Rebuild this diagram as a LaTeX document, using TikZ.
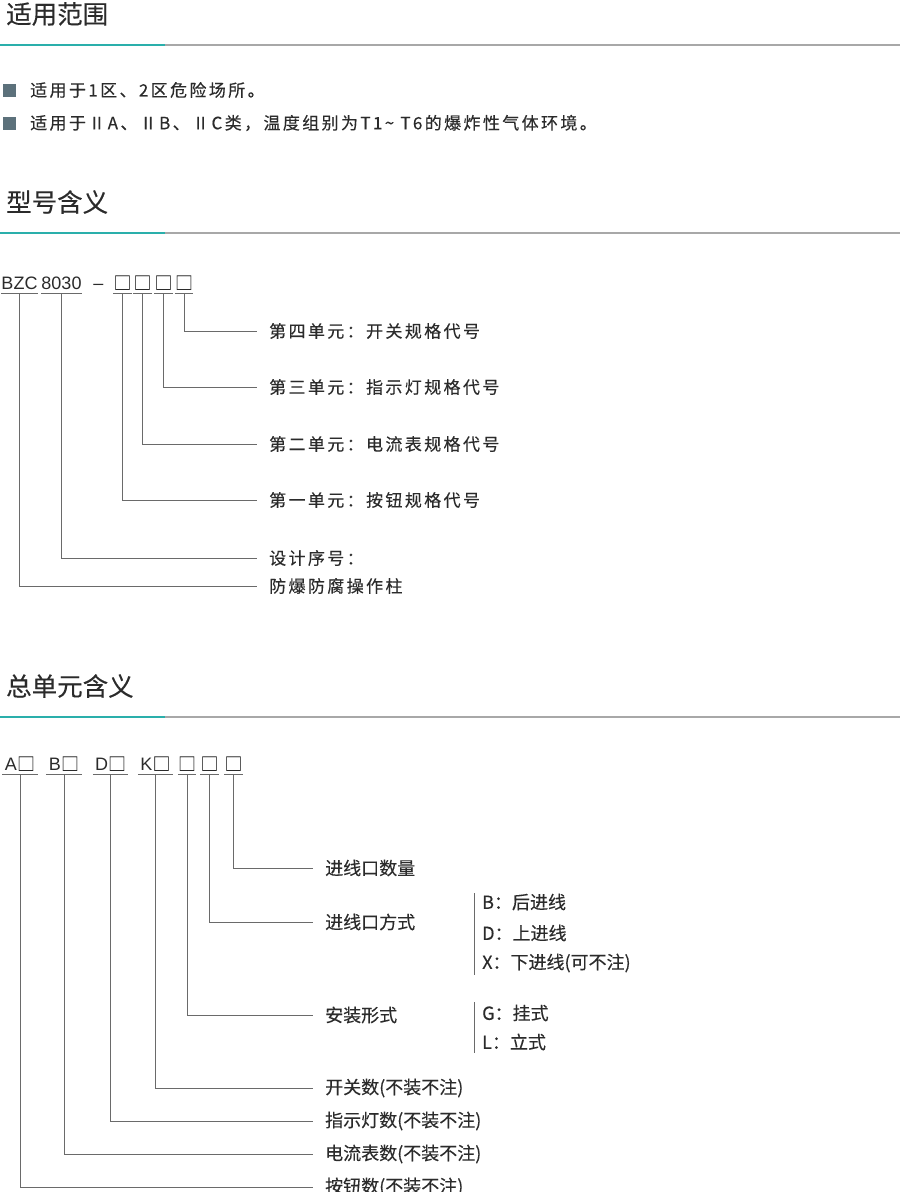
\documentclass[tikz,border=0pt]{standalone}
\usepackage{fontspec}
\setmainfont{Liberation Sans}
\newfontfamily\cjk{Noto Sans CJK SC}[FakeBold=0.3]
\newfontfamily\cjkwide{Noto Sans CJK SC}[LetterSpace=14, FakeBold=0.3]
\usetikzlibrary{positioning}
\definecolor{txt}{HTML}{2B2B2B}
\definecolor{lin}{HTML}{6A6A6A}
\definecolor{tealbar}{HTML}{2AAFAB}
\definecolor{greybar}{HTML}{A8A8A8}
\definecolor{bul}{HTML}{5C717B}
\newcommand\codebox{{\cjk\fontsize{18}{20}\selectfont □}}

\begin{document}
\begin{tikzpicture}[x=1pt, y=-1pt, every node/.style={inner sep=0pt, text=txt},
    head/.style={anchor=west, font=\cjk\fontsize{25.5}{27}\selectfont},
    para/.style={anchor=west, font=\cjkwide\fontsize{17}{19}\selectfont},
    code/.style={anchor=south, inner ysep=3pt, font=\fontsize{18}{20}\selectfont},
    lab/.style={anchor=west, inner xsep=12pt, font=\cjkwide\fontsize{17}{19}\selectfont},
    labb/.style={anchor=west, inner xsep=12pt, font=\cjk\fontsize{18}{20}\selectfont},
    opt/.style={anchor=west, inner xsep=8pt, font=\cjk\fontsize{18}{20}\selectfont},
    conn/.style={lin, line width=0.8pt}]
\useasboundingbox (0,0) rectangle (900,1192);

\node[head] (h1) at (6,14) {适用范围};
\draw[tealbar, line width=1.6pt] (0,45) -- (165,45);
\draw[greybar, line width=1.4pt] (165,45) -- (900,45);
\fill[bul] (3,83.5) rectangle (16,96.5);
\fill[bul] (3,116.5) rectangle (16,129.5);
\node[para] (p1) at (30,90) {适用于1区、2区危险场所。};
\node[para] (p2) at (30,123) {适用于ⅡA、ⅡB、ⅡC类，温度组别为T1\textasciitilde{} T6的爆炸性气体环境。};

\node[head] (h2) at (6,202) {型号含义};
\draw[tealbar, line width=1.6pt] (0,233) -- (165,233);
\draw[greybar, line width=1.4pt] (165,233) -- (900,233);

\node[code, minimum width=35pt] (bzc) at (19.5,293) {BZC};
\node[code, minimum width=37pt] (num) at (61.5,293) {8030};
\node[code] (dash) at (98.5,293) {–};
\node[code, minimum width=15pt, font=\cjk\fontsize{18}{20}\selectfont] (u1) at (122.5,293) {□};
\node[code, minimum width=15pt, font=\cjk\fontsize{18}{20}\selectfont] (u2) at (142.5,293) {□};
\node[code, minimum width=16pt, font=\cjk\fontsize{18}{20}\selectfont] (u3) at (163.5,293) {□};
\node[code, minimum width=16pt, font=\cjk\fontsize{18}{20}\selectfont] (u4) at (184,293) {□};

\node[lab] (s4) at (257,331) {第四单元：开关规格代号};
\node[lab] (s3) at (257,387) {第三单元：指示灯规格代号};
\node[lab] (s2) at (257,444) {第二单元：电流表规格代号};
\node[lab] (s1) at (257,500) {第一单元：按钮规格代号};
\node[lab] (sn) at (257,558) {设计序号：};
\node[lab] (sc) at (257,586) {防爆防腐操作柱};

\draw[conn] (bzc.south west) -- (bzc.south east) (num.south west) -- (num.south east);
\draw[conn] (u1.south west) -- (u1.south east) (u2.south west) -- (u2.south east);
\draw[conn] (u3.south west) -- (u3.south east) (u4.south west) -- (u4.south east);
\draw[conn] (u4.south) |- (s4.west);
\draw[conn] (u3.south) |- (s3.west);
\draw[conn] (u2.south) |- (s2.west);
\draw[conn] (u1.south) |- (s1.west);
\draw[conn] (num.south) |- (sn.west);
\draw[conn] (bzc.south) |- (sc.west);

\node[head] (h3) at (6,686) {总单元含义};
\draw[tealbar, line width=1.6pt] (0,717) -- (165,717);
\draw[greybar, line width=1.4pt] (165,717) -- (900,717);

\node[code, minimum width=35pt] (ca) at (20,774) {A\codebox};
\node[code, minimum width=36pt] (cb) at (64,774) {B\codebox};
\node[code, minimum width=35pt] (cd) at (110.5,774) {D\codebox};
\node[code, minimum width=35pt] (ck) at (155.5,774) {K\codebox};
\node[code, minimum width=16pt] (c5) at (187,774) {\codebox};
\node[code, minimum width=15pt] (c6) at (209.5,774) {\codebox};
\node[code, minimum width=15pt] (c7) at (233.5,774) {\codebox};

\node[labb] (t7) at (313,868) {进线口数量};
\node[labb] (t6) at (313,922) {进线口方式};
\node[labb] (t5) at (313,1015) {安装形式};
\node[labb] (t4) at (313,1088) {开关数(不装不注)};
\node[labb] (t3) at (313,1121) {指示灯数(不装不注)};
\node[labb] (t2) at (313,1154) {电流表数(不装不注)};
\node[labb] (t1) at (313,1187) {按钮数(不装不注)};

\node[opt] (ob) at (474,902) {B：后进线};
\node[opt] (od) at (474,933) {D：上进线};
\node[opt] (ox) at (474,963) {X：下进线(可不注)};
\node[opt] (og) at (474,1013) {G：挂式};
\node[opt] (ol) at (474,1042) {L：立式};
\draw[conn] ([yshift=9pt]ob.west) -- ([yshift=-12pt]ox.west);
\draw[conn] ([yshift=11pt]og.west) -- ([yshift=-11pt]ol.west);

\draw[conn] (ca.south west) -- (ca.south east) (cb.south west) -- (cb.south east);
\draw[conn] (cd.south west) -- (cd.south east) (ck.south west) -- (ck.south east);
\draw[conn] (c5.south west) -- (c5.south east) (c6.south west) -- (c6.south east);
\draw[conn] (c7.south west) -- (c7.south east);
\draw[conn] (c7.south) |- (t7.west);
\draw[conn] (c6.south) |- (t6.west);
\draw[conn] (c5.south) |- (t5.west);
\draw[conn] (ck.south) |- (t4.west);
\draw[conn] (cd.south) |- (t3.west);
\draw[conn] (cb.south) |- (t2.west);
\draw[conn] (ca.south) |- (t1.west);
\end{tikzpicture}
\end{document}
